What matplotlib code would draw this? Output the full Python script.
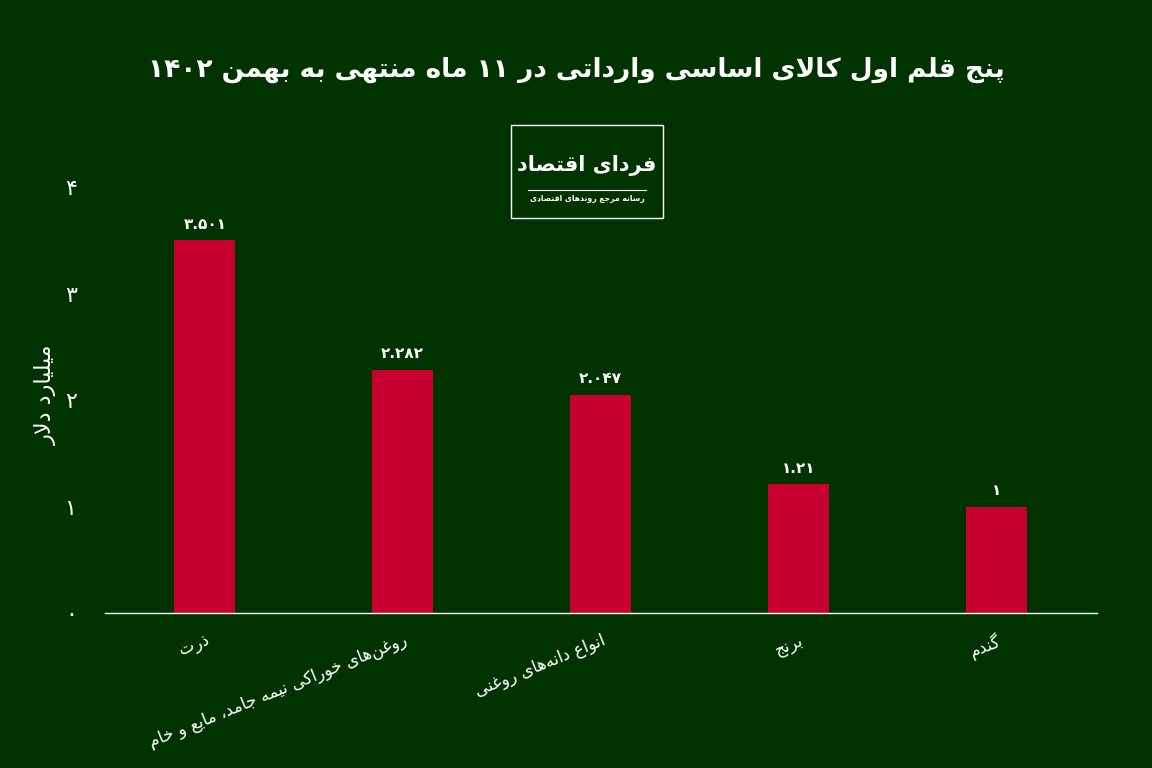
import matplotlib
matplotlib.use("Agg")
import matplotlib.pyplot as plt
from matplotlib.patches import Rectangle
from matplotlib.lines import Line2D

# --- data ---
categories = ["ذرت", "روغن‌های خوراکی نیمه جامد، مایع و خام", "انواع دانه‌های روغنی", "برنج", "گندم"]
values = [3.501, 2.282, 2.047, 1.21, 1]
yticks = [0, 1, 2, 3, 4]

title = "پنج قلم اول کالای اساسی وارداتی در ۱۱ ماه منتهی به بهمن ۱۴۰۲"
ylabel = "میلیارد دلار"
logo_main = "فردای اقتصاد"
logo_sub = "رسانه مرجع روندهای اقتصادی"

BG = "#013301"
BAR = "#c8002f"

# ---------------------------------------------------------
# simple persian shaping (no arabic_reshaper / bidi available)
# ---------------------------------------------------------
FORMS = {
    "ا": (0xFE8D, 0xFE8E), "آ": (0xFE81, 0xFE82),
    "ب": (0xFE8F, 0xFE90, 0xFE91, 0xFE92), "پ": (0xFB56, 0xFB57, 0xFB58, 0xFB59),
    "ت": (0xFE95, 0xFE96, 0xFE97, 0xFE98), "ث": (0xFE99, 0xFE9A, 0xFE9B, 0xFE9C),
    "ج": (0xFE9D, 0xFE9E, 0xFE9F, 0xFEA0), "چ": (0xFB7A, 0xFB7B, 0xFB7C, 0xFB7D),
    "ح": (0xFEA1, 0xFEA2, 0xFEA3, 0xFEA4), "خ": (0xFEA5, 0xFEA6, 0xFEA7, 0xFEA8),
    "د": (0xFEA9, 0xFEAA), "ذ": (0xFEAB, 0xFEAC), "ر": (0xFEAD, 0xFEAE),
    "ز": (0xFEAF, 0xFEB0), "ژ": (0xFB8A, 0xFB8B),
    "س": (0xFEB1, 0xFEB2, 0xFEB3, 0xFEB4), "ش": (0xFEB5, 0xFEB6, 0xFEB7, 0xFEB8),
    "ص": (0xFEB9, 0xFEBA, 0xFEBB, 0xFEBC), "ض": (0xFEBD, 0xFEBE, 0xFEBF, 0xFEC0),
    "ط": (0xFEC1, 0xFEC2, 0xFEC3, 0xFEC4), "ظ": (0xFEC5, 0xFEC6, 0xFEC7, 0xFEC8),
    "ع": (0xFEC9, 0xFECA, 0xFECB, 0xFECC), "غ": (0xFECD, 0xFECE, 0xFECF, 0xFED0),
    "ف": (0xFED1, 0xFED2, 0xFED3, 0xFED4), "ق": (0xFED5, 0xFED6, 0xFED7, 0xFED8),
    "ک": (0xFB8E, 0xFB8F, 0xFB90, 0xFB91), "گ": (0xFB92, 0xFB93, 0xFB94, 0xFB95),
    "ل": (0xFEDD, 0xFEDE, 0xFEDF, 0xFEE0), "م": (0xFEE1, 0xFEE2, 0xFEE3, 0xFEE4),
    "ن": (0xFEE5, 0xFEE6, 0xFEE7, 0xFEE8), "و": (0xFEED, 0xFEEE),
    "ه": (0xFEE9, 0xFEEA, 0xFEEB, 0xFEEC), "ی": (0xFBFC, 0xFBFD, 0xFBFE, 0xFBFF),
}
LTR_CHARS = set("0123456789.۰۱۲۳۴۵۶۷۸۹")


def joins_left(c):
    return c in FORMS and len(FORMS[c]) == 4


def shape(text):
    out = []
    i = 0
    n = len(text)
    while i < n:
        c = text[i]
        if c not in FORMS:
            if c != "\u200c":
                out.append(c)
            i += 1
            continue
        prev = text[i - 1] if i > 0 else ""
        nxt = text[i + 1] if i + 1 < n else ""
        pj = joins_left(prev)
        # lam-alef ligature
        if c == "ل" and nxt == "ا":
            out.append(chr(0xFEFC if pj else 0xFEFB))
            i += 2
            continue
        nj = joins_left(c) and nxt in FORMS
        f = FORMS[c]
        if pj and nj:
            g = f[3]
        elif pj:
            g = f[1]
        elif nj:
            g = f[2]
        else:
            g = f[0]
        out.append(chr(g))
        i += 1
    s = "".join(out)
    # visual order: reverse, keep number runs left-to-right
    runs = []
    for ch in s:
        ltr = ch in LTR_CHARS
        if runs and runs[-1][0] == ltr:
            runs[-1][1] += ch
        else:
            runs.append([ltr, ch])
    vis = ""
    for ltr, r in reversed(runs):
        vis += r if ltr else r[::-1]
    return vis


def fa_num(s):
    return "".join("۰۱۲۳۴۵۶۷۸۹"[int(ch)] if ch.isdigit() else ch for ch in s)


plt.rcParams["font.family"] = ["DejaVu Sans"]

fig = plt.figure(figsize=(11.52, 7.68), dpi=100, facecolor=BG)
ax = fig.add_axes([0.091, 0.2018, 0.861, 0.5547])
ax.set_facecolor(BG)

x = list(range(len(categories)))
ax.bar(x, values, width=0.31, color=BAR, zorder=2)

for xi, v in zip(x, values):
    ax.text(xi, v + 0.08, fa_num(f"{v:g}"), ha="center", va="bottom",
            color="white", fontsize=11, fontweight="bold")

ax.set_xlim(-0.505, 4.505)
ax.set_ylim(0, 4)
ax.set_yticks(yticks)
ax.set_yticklabels([fa_num(str(t)) for t in yticks], color="white", fontsize=16)
ax.set_xticks(x)
ax.set_xticklabels([shape(c) for c in categories], color="white", fontsize=12,
                   rotation=22, ha="right", va="top", rotation_mode="anchor")
ax.tick_params(axis="x", length=0, pad=13)
ax.tick_params(axis="y", length=0, pad=20)

for s in ["top", "right", "left"]:
    ax.spines[s].set_visible(False)
ax.spines["bottom"].set_color("white")
ax.spines["bottom"].set_linewidth(1)

fig.text(0.040, 0.486, shape(ylabel), rotation=90, ha="center", va="center",
         color="white", fontsize=16)

fig.text(0.5, 0.909, shape(title), ha="center", va="center", color="white",
         fontsize=19, fontweight="bold")

# logo box
fig.patches.append(Rectangle((0.4436, 0.716), 0.132, 0.121, transform=fig.transFigure,
                             fill=False, edgecolor="white", linewidth=1))
fig.text(0.5095, 0.784, shape(logo_main), ha="center", va="center", color="white",
         fontsize=15, fontweight="bold")
fig.lines.append(Line2D([0.458, 0.561], [0.752, 0.752], transform=fig.transFigure,
                        color="white", linewidth=0.8))
fig.text(0.5095, 0.741, shape(logo_sub), ha="center", va="center", color="white",
         fontsize=5.5, fontweight="bold")

plt.savefig("out.png", dpi=100, facecolor=BG)
plt.close()
